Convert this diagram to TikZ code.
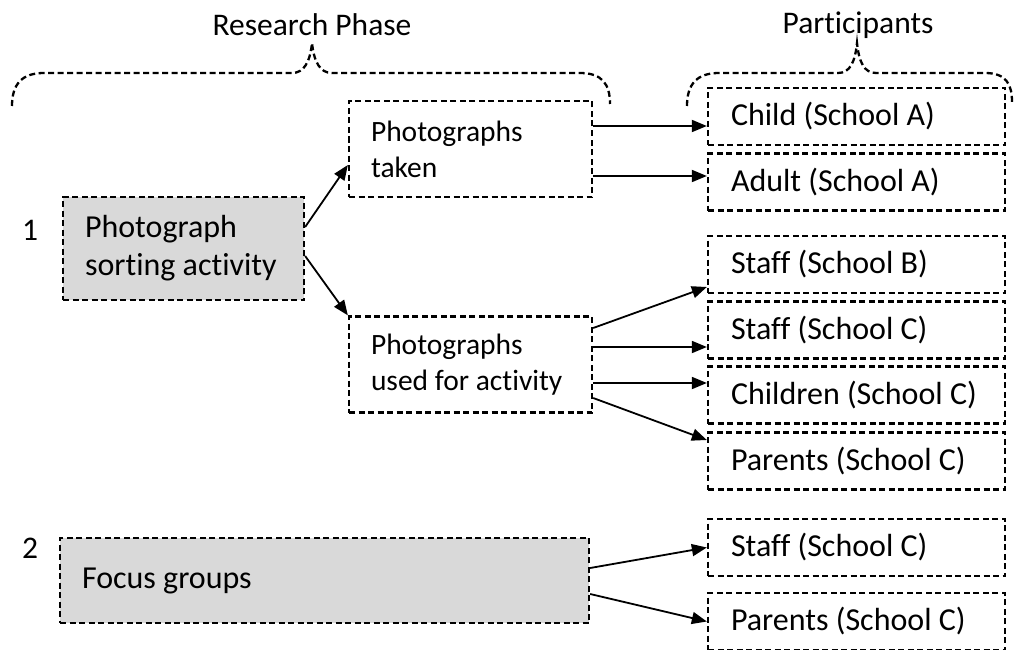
\documentclass[tikz,border=0pt]{standalone}
\usepackage{fontspec}
\setmainfont{Carlito}[Ligatures=NoCommon]
\usetikzlibrary{arrows.meta,positioning}

\begin{document}
\begin{tikzpicture}[x=1pt,y=-1pt,
  dbox/.style={draw,line width=2.3pt,dash pattern=on 6pt off 3.5pt,inner xsep=22pt,inner ysep=0pt,align=flush left,font=\fontsize{32}{38}\selectfont},
  phase/.style={dbox,fill=gray!30,minimum height=103pt},
  item/.style={dbox,font=\fontsize{29.5}{36}\selectfont,text width=199pt,minimum height=96pt},
  who/.style={dbox,inner xsep=23pt,text width=251pt,minimum height=57pt},
  arr/.style={-{Triangle[length=15pt,width=12pt]},line width=1.8pt},
  brace/.style={line width=2.3pt,dash pattern=on 6pt off 3.5pt},
  lbl/.style={font=\fontsize{31.5}{38}\selectfont}
]
\useasboundingbox (0,0) rectangle (1014,650);

% headings
\node[lbl] (rphase) at (312,25) {Research Phase};
\node[lbl] (parts) at (858,25) {Participants};
\draw[brace] (12,106) .. controls (12,84) and (22,73) .. (44,73) -- (292,73)
  .. controls (304,73) and (310,62) .. (312,43) .. controls (314,62) and (320,73) .. (332,73)
  -- (580,73) .. controls (602,73) and (610,84) .. (610,104);
\draw[brace] (687,106) .. controls (687,84) and (697,73) .. (719,73) -- (838,73)
  .. controls (850,73) and (855,62) .. (857,43) .. controls (859,62) and (864,73) .. (876,73)
  -- (985,73) .. controls (1006,73) and (1012,84) .. (1012,102);

% phases
\node[lbl] (num1) at (30,230) {1};
\node[lbl] (num2) at (30,548) {2};
\node[phase,text width=197pt] (sort) at (183.5,248.5) {Photograph\\sorting activity};
\node[phase,text width=485pt,minimum height=85pt] (focus) at (324.5,580.5) {Focus groups};

\node[item] (taken) at (470.5,149) {Photographs\\taken};
\node[item] (used) at (470.5,364.5) {Photographs\\used for activity};

% participants
\node[who] (childa) at (856.5,116.5) {Child (School A)};
\node[who] (adulta) at (856.5,182) {Adult (School A)};
\node[who] (staffb) at (856.5,264.5) {Staff (School B)};
\node[who] (staffc) at (856.5,330) {Staff (School C)};
\node[who] (childc) at (856.5,395) {Children (School C)};
\node[who] (parc) at (856.5,461) {Parents (School C)};
\node[who] (staffcf) at (856.5,547.5) {Staff (School C)};
\node[who] (parcf) at (856.5,621.5) {Parents (School C)};

% arrows
\draw[arr] ([yshift=21.5pt]sort.east) -- ([yshift=-16pt]taken.west);
\draw[arr] ([yshift=-7.5pt]sort.east) -- (used.north west);
\draw[arr] ([yshift=23pt]taken.east) coordinate (t1) -- (t1 -| childa.west);
\draw[arr] ([yshift=-27pt]taken.east) coordinate (t2) -- (t2 -| adulta.west);
\draw[arr] ([yshift=36.5pt]used.east) -- ([yshift=-22.5pt]staffb.west);
\draw[arr] ([yshift=17.5pt]used.east) coordinate (u2) -- (u2 -| staffc.west);
\draw[arr] ([yshift=-18.5pt]used.east) coordinate (u3) -- (u3 -| childc.west);
\draw[arr] ([yshift=-33.5pt]used.east) -- ([yshift=21pt]parc.west);
\draw[arr] ([yshift=12.5pt]focus.east) -- (staffcf.west);
\draw[arr] ([yshift=-13.5pt]focus.east) -- (parcf.west);
\end{tikzpicture}
\end{document}
